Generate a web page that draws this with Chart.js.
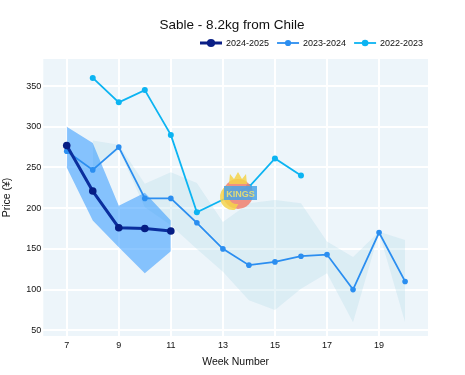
<!DOCTYPE html>
<html>
<head>
<meta charset="utf-8">
<script src="https://cdn.jsdelivr.net/npm/chart.js@4.4.1/dist/chart.umd.min.js"></script>
<style>
    body { margin: 0; background: #fff; }
    #wrap { width: 465px; height: 375px; position: relative; }
</style>
</head>
<body>
<div id="wrap"><canvas id="chartCanvas"></canvas></div>
<script>
// Season prices by week
const weeks2425 = [7, 8, 9, 10, 11];
const price2425 = [277, 221, 176, 175, 172];
const band2425Upper = [300, 280, 203, 219, 185];
const band2425Lower = [250, 185, 152, 120, 147];

const weeks2324 = [7, 8, 9, 10, 11, 12, 13, 14, 15, 16, 17, 18, 19, 20];
const price2324 = [270, 247, 275, 212, 212, 182, 150, 130, 134, 141, 143, 100, 170, 110];

const weeks2223 = [8, 9, 10, 11, 12, 14, 15, 16];
const price2223 = [360, 330, 345, 290, 195, 226, 261, 240];

// light historical range band
const rangeWeeks = [8, 9, 10, 11, 12, 13, 14, 15, 16, 17, 18, 19, 20];
const rangeUpper = [283, 278, 230, 244, 231, 183, 206, 210, 206, 159, 140, 171, 161];
const rangeLower = [247, 272, 201, 179, 150, 122, 87, 75, 101, 120, 60, 170, 60];

const xTicks = [7, 9, 11, 13, 15, 17, 19];
const yTicks = [50, 100, 150, 200, 250, 300, 350];

const FONT = "'Liberation Sans', Arial, sans-serif";

function toPoints(xs, ys) {
    return xs.map((x, i) => ({ x: x, y: ys[i] }));
}

// plot background
const plotBg = {
    id: 'plotBg',
    beforeDraw(chart) {
        const { ctx, chartArea: a } = chart;
        ctx.save();
        ctx.fillStyle = '#edf5fa';
        ctx.fillRect(a.left, a.top, a.right - a.left, a.bottom - a.top);
        ctx.restore();
    }
};

// title, legend and watermark
const decorations = {
    id: 'decorations',
    afterDraw(chart) {
        const ctx = chart.ctx;
        ctx.save();
        ctx.fillStyle = '#111';
        ctx.font = '13.5px ' + FONT;
        ctx.textAlign = 'center';
        ctx.textBaseline = 'middle';
        ctx.fillText('Sable - 8.2kg from Chile', 232, 25);

        // legend
        const items = chart.data.datasets.filter(d => d.inLegend);
        let x = 200;
        ctx.font = '9px ' + FONT;
        ctx.textAlign = 'left';
        items.forEach(d => {
            ctx.strokeStyle = d.legendColor;
            ctx.lineWidth = d.borderWidth;
            ctx.beginPath();
            ctx.moveTo(x, 43);
            ctx.lineTo(x + 22, 43);
            ctx.stroke();
            ctx.fillStyle = d.legendColor;
            ctx.beginPath();
            ctx.arc(x + 11, 43, d.pointRadius + 0.3, 0, Math.PI * 2);
            ctx.fill();
            ctx.fillStyle = '#111';
            ctx.fillText(d.label, x + 26, 43.5);
            x += 26 + ctx.measureText(d.label).width + 8;
        });

        // watermark logo
        ctx.globalAlpha = 0.85;
        ctx.fillStyle = '#ee7f6c';
        ctx.beginPath();
        ctx.arc(238, 194, 15, 0, Math.PI * 2);
        ctx.fill();
        ctx.fillStyle = '#f4d34a';
        ctx.beginPath();
        ctx.arc(233, 197, 13, Math.PI * 0.45, Math.PI * 1.35);
        ctx.arc(237, 195, 9, Math.PI * 1.35, Math.PI * 0.45, true);
        ctx.fill();
        ctx.beginPath();
        ctx.moveTo(229, 184); ctx.lineTo(230, 174); ctx.lineTo(234, 179); ctx.lineTo(238, 172);
        ctx.lineTo(242, 179); ctx.lineTo(246, 174); ctx.lineTo(247, 184); ctx.closePath();
        ctx.fill();
        ctx.fillStyle = '#4aa3e8';
        ctx.fillRect(224, 186, 33, 14);
        ctx.fillStyle = '#f6e36a';
        ctx.font = 'bold 9px ' + FONT;
        ctx.textAlign = 'center';
        ctx.fillText('KINGS', 240.5, 194.5);
        ctx.restore();
    }
};

const ctx = document.getElementById('chartCanvas').getContext('2d');
new Chart(ctx, {
    type: 'line',
    data: {
        datasets: [
            {
                label: '2024-2025',
                inLegend: true,
                legendColor: '#0a1f86',
                data: toPoints(weeks2425, price2425),
                borderColor: '#0b2f9e',
                backgroundColor: '#061d84',
                pointBackgroundColor: '#061d84',
                borderWidth: 3,
                pointRadius: 3.8,
                pointBorderWidth: 0,
                fill: false
            },
            {
                label: '2023-2024',
                inLegend: true,
                legendColor: '#2b8ef0',
                data: toPoints(weeks2324, price2324),
                borderColor: '#2b8ef0',
                backgroundColor: '#2b8ef0',
                borderWidth: 1.8,
                pointRadius: 2.8,
                pointBorderWidth: 0,
                fill: false
            },
            {
                label: '2022-2023',
                inLegend: true,
                legendColor: '#0cb4f2',
                data: toPoints(weeks2223, price2223),
                borderColor: '#0cb4f2',
                backgroundColor: '#0cb4f2',
                borderWidth: 1.8,
                pointRadius: 3,
                pointBorderWidth: 0,
                fill: false
            },
            {
                label: '2024-2025 high',
                data: toPoints(weeks2425, band2425Upper),
                borderWidth: 0,
                pointRadius: 0,
                backgroundColor: 'rgba(30, 144, 255, 0.5)',
                fill: '+1'
            },
            {
                label: '2024-2025 low',
                data: toPoints(weeks2425, band2425Lower),
                borderWidth: 0,
                pointRadius: 0,
                fill: false
            },
            {
                label: 'range high',
                data: toPoints(rangeWeeks, rangeUpper),
                borderWidth: 0,
                pointRadius: 0,
                backgroundColor: 'rgba(173, 216, 230, 0.28)',
                fill: '+1'
            },
            {
                label: 'range low',
                data: toPoints(rangeWeeks, rangeLower),
                borderWidth: 0,
                pointRadius: 0,
                fill: false
            }
        ]
    },
    options: {
        responsive: true,
        maintainAspectRatio: false,
        animation: false,
        layout: { padding: { top: 59, right: 37, left: 0, bottom: 0 } },
        plugins: {
            legend: { display: false },
            title: { display: false },
            tooltip: { enabled: false }
        },
        scales: {
            x: {
                type: 'linear',
                min: 6.1,
                max: 20.88,
                afterFit: s => { s.height = 39; },
                afterBuildTicks: s => { s.ticks = xTicks.map(v => ({ value: v })); },
                grid: { color: '#ffffff', lineWidth: 2, drawTicks: false },
                border: { display: false },
                ticks: { color: '#111', font: { family: FONT, size: 9 }, padding: 4, maxRotation: 0 },
                title: {
                    display: true,
                    text: 'Week Number',
                    color: '#111',
                    font: { family: FONT, size: 10.5 },
                    padding: { top: 0, bottom: 6.5 }
                }
            },
            y: {
                min: 43,
                max: 383.2,
                afterFit: s => { s.width = 43.3; },
                afterBuildTicks: s => { s.ticks = yTicks.map(v => ({ value: v })); },
                grid: { color: '#ffffff', lineWidth: 2, drawTicks: false },
                border: { display: false },
                ticks: { color: '#111', font: { family: FONT, size: 9 }, padding: 2 },
                title: {
                    display: true,
                    text: 'Price (¥)',
                    color: '#111',
                    font: { family: FONT, size: 10.5 },
                    padding: { top: 0.5, bottom: 0 }
                }
            }
        }
    },
    plugins: [plotBg, decorations]
});
</script>
</body>
</html>
